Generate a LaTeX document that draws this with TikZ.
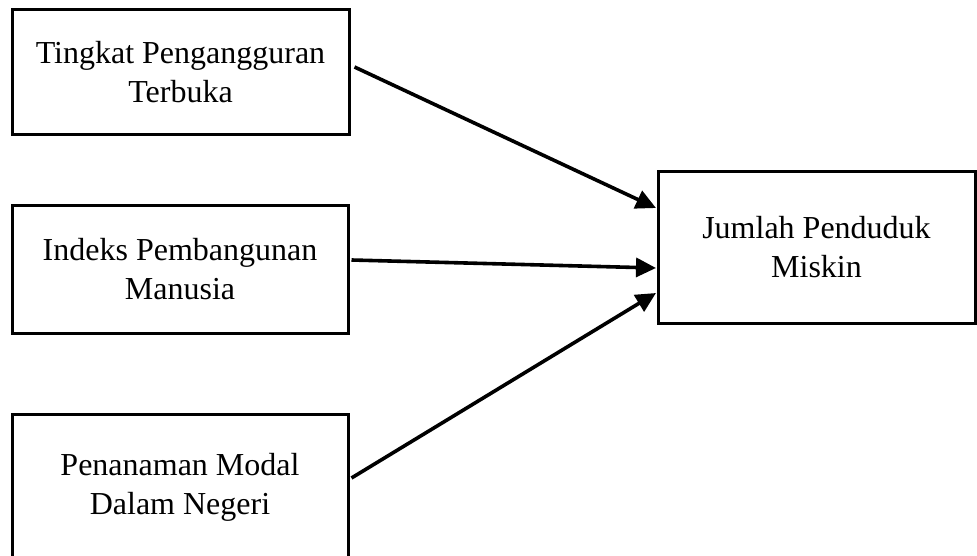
\documentclass[tikz,border=0pt]{standalone}
\usepackage{fontspec}
\setmainfont{Liberation Serif}
\usetikzlibrary{arrows.meta}
\begin{document}
\begin{tikzpicture}[x=1pt,y=-1pt,
  varbox/.style={draw=black, line width=3pt, inner sep=0pt, align=center,
    font=\fontsize{32}{39}\selectfont},
  conn/.style={line width=3.6pt, -{Triangle[length=20pt,width=19pt]}}]
\useasboundingbox (0,0) rectangle (977,556);
\clip (0,0) rectangle (977,556);
\node[varbox, minimum width=337pt, minimum height=125pt] (tpt) at (180.5,72.5) {Tingkat Pengangguran\\Terbuka};
\node[varbox, minimum width=336pt, minimum height=127pt] (ipm) at (180,269.5) {Indeks Pembangunan\\Manusia};
\node[varbox, minimum width=336pt, minimum height=146pt] (pmdn) at (180,487) {Penanaman Modal\\Dalam Negeri};
\node[varbox, minimum width=317pt, minimum height=151pt] (jpm) at (816.5,247.5) {Jumlah Penduduk\\Miskin};
\coordinate (s1) at ([xshift=4pt,yshift=5.5pt]tpt.east);
\coordinate (s2) at ([xshift=2pt,yshift=9.5pt]ipm.east);
\coordinate (s3) at ([xshift=2pt,yshift=9pt]pmdn.east);
\coordinate (e1) at ([xshift=-0.5pt,yshift=39.5pt]jpm.west);
\coordinate (e2) at ([xshift=-0.5pt,yshift=-20.5pt]jpm.west);
\coordinate (e3) at ([xshift=-0.5pt,yshift=-45.5pt]jpm.west);
\draw[conn] (s1) -- (e1);
\draw[conn] (s2) -- (e2);
\draw[conn] (s3) -- (e3);
\end{tikzpicture}
\end{document}
